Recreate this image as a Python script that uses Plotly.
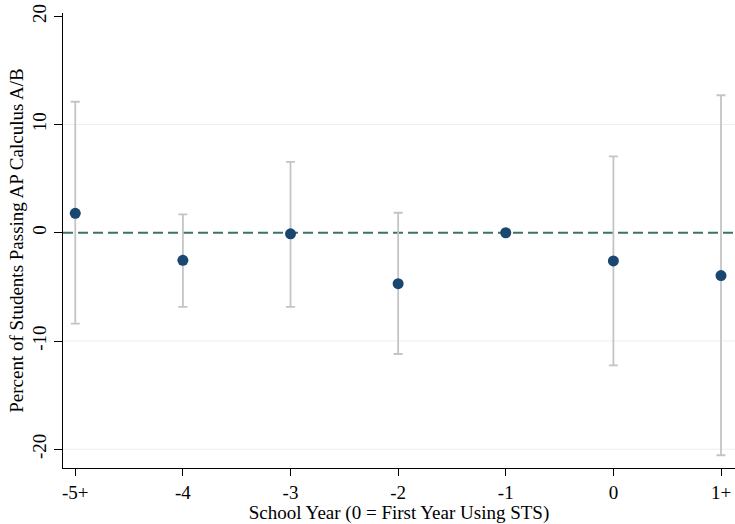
import plotly.graph_objects as go

# ---- data ----
categories = ["-5+", "-4", "-3", "-2", "-1", "0", "1+"]
estimates = [1.8, -2.55, -0.1, -4.7, 0.0, -2.6, -3.95]
ci_upper = [12.1, 1.7, 6.55, 1.85, 0.0, 7.05, 12.7]
ci_lower = [-8.4, -6.85, -6.85, -11.2, 0.0, -12.25, -20.55]
y_ticks = [-20, -10, 0, 10, 20]
ref_line = 0

err_plus = [u - e for u, e in zip(ci_upper, estimates)]
err_minus = [e - l for e, l in zip(estimates, ci_lower)]

FONT = "Liberation Serif"
NAVY = "#1a476f"
GRAY = "#c4c4c4"
TEAL = "#3a7468"
GRID = "#e8f0f1"

fig = go.Figure()

fig.add_trace(go.Scatter(
    x=categories,
    y=estimates,
    mode="markers",
    marker=dict(color=NAVY, size=11, line=dict(width=0)),
    error_y=dict(
        type="data",
        symmetric=False,
        array=err_plus,
        arrayminus=err_minus,
        color=GRAY,
        thickness=1.8,
        width=4.5,
    ),
    showlegend=False,
))

y_range = [-21.73, 20.3]

shapes = []
for t in y_ticks:
    if t < y_range[1] - 1 and t != ref_line:
        shapes.append(dict(type="line", xref="paper", x0=0, x1=1, yref="y", y0=t, y1=t,
                           line=dict(color=GRID, width=1), layer="below"))
shapes.append(dict(type="line", xref="paper", x0=0, x1=1, yref="y", y0=ref_line, y1=ref_line,
                   line=dict(color=TEAL, width=1.8, dash="10px,5px"), layer="below"))

fig.update_layout(
    width=735,
    height=524,
    margin=dict(l=63, r=0, t=13, b=56),
    paper_bgcolor="white",
    plot_bgcolor="white",
    font=dict(family=FONT, size=19, color="black"),
    shapes=shapes,
    xaxis=dict(
        type="category",
        range=[-0.114, 6.13],
        showgrid=False,
        zeroline=False,
        showline=True,
        linecolor="black",
        linewidth=1.2,
        ticks="outside",
        ticklen=7,
        tickwidth=1.2,
        tickcolor="black",
        tickfont=dict(family=FONT, size=19, color="black"),
        title=dict(text="School Year (0 = First Year Using STS)", standoff=10,
                   font=dict(family=FONT, size=19, color="black")),
        automargin=False,
    ),
    yaxis=dict(
        range=y_range,
        tickvals=y_ticks,
        ticktext=[str(t) for t in y_ticks],
        tickangle=-90,
        showgrid=False,
        zeroline=False,
        showline=True,
        linecolor="black",
        linewidth=1.2,
        ticks="outside",
        ticklen=8,
        tickwidth=1.2,
        tickcolor="black",
        tickfont=dict(family=FONT, size=19, color="black"),
        title=dict(text="Percent of Students Passing AP Calculus A/B", standoff=0,
                   font=dict(family=FONT, size=19, color="black")),
        automargin=False,
    ),
)

fig.write_html("out.html", config={"displayModeBar": False},
               post_script="document.body.style.margin='0';")
